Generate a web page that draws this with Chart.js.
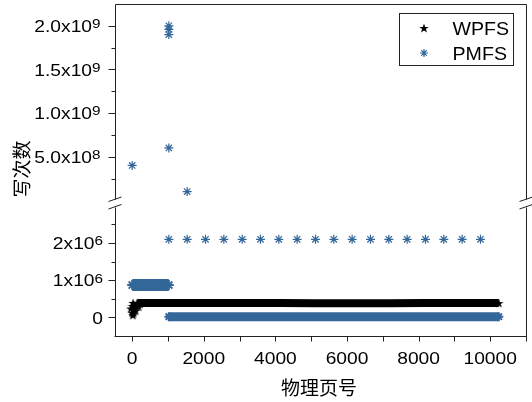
<!DOCTYPE html>
<html>
<head>
<meta charset="utf-8">
<script src="https://cdn.jsdelivr.net/npm/chart.js@4"></script>
<style>
  html, body { margin: 0; padding: 0; background: #fff; }
  #wrap { width: 532px; height: 402px; }
</style>
</head>
<body>
<div id="wrap"><canvas id="chart" width="532" height="402"></canvas></div>
<script>
// values (x = physical page number, y = write count)

// WPFS: a scattered head near page 0, then a flat dense band to the last page
const wpfsHeadPages  = [-40, 0, 8, 16, 24, 40, 56, 72, 96, 120, 144, 180, 220];
const wpfsHeadWrites = [2.4e5, 1.3e5, 3.1e5, 6e4, 3.9e5, 1.1e5, 2.6e5, 3.4e5, 1.8e5, 3.0e5, 3.8e5, 2.9e5, 3.6e5];
const wpfsBandPages  = [144, 1024, 2048, 3072, 4096, 5120, 6144, 7168, 8192, 9216, 10240];
const wpfsBandWrites = [3.85e5, 3.85e5, 3.85e5, 3.85e5, 3.85e5, 3.8e5, 3.8e5, 3.8e5, 3.85e5, 3.85e5, 3.85e5];

// PMFS: very hot pages (upper segment), a 2.1x10^6 row every 512 pages, two dense bands
const pmfsHotPages   = [0, 1024, 1024, 1024, 1024, 1536];
const pmfsHotWrites  = [4.0e8, 2.0e9, 1.96e9, 1.9e9, 6.0e8, 1.0e8];
const pmfsRowPages   = [1024, 1536, 2048, 2560, 3072, 3584, 4096, 4608, 5120, 5632, 6144, 6656, 7168, 7680, 8192, 8704, 9216, 9728];
const pmfsRowWrites  = [2.1e6, 2.1e6, 2.1e6, 2.1e6, 2.1e6, 2.1e6, 2.1e6, 2.1e6, 2.1e6, 2.1e6, 2.1e6, 2.1e6, 2.1e6, 2.1e6, 2.1e6, 2.1e6, 2.1e6, 2.1e6];
const pmfsHighBandPages  = [0, 256, 512, 768, 1024];
const pmfsHighBandWrites = [8.7e5, 8.7e5, 8.7e5, 8.7e5, 8.7e5];
const pmfsZeroBandPages  = [1024, 2048, 3072, 4096, 5120, 6144, 7168, 8192, 9216, 10240];
const pmfsZeroBandWrites = [2e4, 2e4, 2e4, 2e4, 2e4, 2e4, 2e4, 2e4, 2e4, 2e4];

// axis ticks
const xMajorTicks = [0, 2000, 4000, 6000, 8000, 10000];
const xMinorTicks = [1000, 3000, 5000, 7000, 9000, 11000];
const yTopTicks = [5e8, 1e9, 1.5e9, 2e9];
const yTopTickLabels = [['5.0x10', '8'], ['1.0x10', '9'], ['1.5x10', '9'], ['2.0x10', '9']];
const yTopMinor = [2.5e8, 7.5e8, 1.25e9, 1.75e9];
const yLowTicks = [0, 1e6, 2e6];
const yLowTickLabels = [['0', ''], ['1x10', '6'], ['2x10', '6']];
const yLowMinor = [5e5, 1.5e6, 2.5e6];

const blue = '#336699';
const FONT = "'Liberation Sans', Arial, sans-serif";
const CJK = "'Noto Sans CJK SC', sans-serif";

// filled five-point star for WPFS
const starImg = (() => {
  const c = document.createElement('canvas');
  c.width = 10; c.height = 10;
  const g = c.getContext('2d');
  g.fillStyle = '#000';
  g.beginPath();
  for (let i = 0; i < 10; i++) {
    const r = i % 2 ? 2.0 : 5;
    const a = -Math.PI / 2 + i * Math.PI / 5;
    g.lineTo(5 + r * Math.cos(a), 5.5 + r * Math.sin(a));
  }
  g.closePath();
  g.fill();
  return c;
})();

const toPts = (xs, ys) => xs.map((x, i) => ({ x: x, y: ys[i] }));
const endsOnly = r => ctx => (ctx.dataIndex === 0 || ctx.dataIndex === ctx.dataset.data.length - 1) ? r : 0;

function txt(ctx, s, x, y, font, align, sx) {
  ctx.save();
  ctx.font = font;
  ctx.translate(x, y);
  ctx.scale(sx, 1);
  ctx.textAlign = align;
  ctx.textBaseline = 'alphabetic';
  ctx.fillText(s, 0, 0);
  ctx.restore();
  ctx.font = font;
  return ctx.measureText(s).width * sx;
}

function asterisk(ctx, x, y, r) {
  ctx.save();
  ctx.strokeStyle = blue;
  ctx.lineWidth = 1.2;
  ctx.beginPath();
  for (let i = 0; i < 4; i++) {
    const a = i * Math.PI / 4;
    ctx.moveTo(x - r * Math.cos(a), y - r * Math.sin(a));
    ctx.lineTo(x + r * Math.cos(a), y + r * Math.sin(a));
  }
  ctx.stroke();
  ctx.restore();
}

// axes with the break, ticks, labels, titles and legend
const decor = {
  id: 'decor',
  afterDraw(chart) {
    const { ctx, chartArea: a } = chart;
    const x = chart.scales.x, yTop = chart.scales.yTop, yLow = chart.scales.yLow;
    const L = Math.round(a.left) + 0.5, R = Math.round(a.right) + 0.5;
    const T = Math.round(a.top) + 0.5, B = Math.round(a.bottom) + 0.5;
    const mid = yTop.bottom;
    ctx.save();
    ctx.strokeStyle = '#222';
    ctx.lineWidth = 1;
    ctx.beginPath();
    // top and bottom frame lines
    ctx.moveTo(L, T); ctx.lineTo(R, T);
    ctx.moveTo(L - 1, B); ctx.lineTo(R + 0.5, B);
    // left and right lines, broken around the segment boundary
    [L, R].forEach(X => {
      ctx.moveTo(X, T); ctx.lineTo(X, mid - 3);
      ctx.moveTo(X, mid + 5); ctx.lineTo(X, B);
      ctx.moveTo(X - 7, mid - 1); ctx.lineTo(X + 6, mid - 5.5);
      ctx.moveTo(X - 7, mid + 6.5); ctx.lineTo(X + 6, mid + 2);
    });
    // x ticks
    xMajorTicks.concat(xMinorTicks).forEach(v => {
      const px = Math.round(x.getPixelForValue(v)) + 0.5;
      ctx.moveTo(px, B); ctx.lineTo(px, B + 5);
    });
    // y ticks
    const yt = (scale, vals, len) => vals.forEach(v => {
      const py = Math.round(scale.getPixelForValue(v)) + 0.5;
      ctx.moveTo(L, py); ctx.lineTo(L - len, py);
    });
    yt(yTop, yTopTicks, 7); yt(yTop, yTopMinor, 4);
    yt(yLow, yLowTicks, 7); yt(yLow, yLowMinor, 4);
    ctx.stroke();

    ctx.fillStyle = '#000';
    const sx = 1.13;
    xMajorTicks.forEach(v => {
      txt(ctx, String(v), x.getPixelForValue(v), 363.5, '17px ' + FONT, 'center', sx);
    });
    const ylab = (scale, vals, labels, right) => vals.forEach((v, i) => {
      const py = scale.getPixelForValue(v);
      const [m, e] = labels[i];
      let w = 0;
      if (e) w = txt(ctx, e, right, py + 2.3, '13.5px ' + FONT, 'right', sx);
      txt(ctx, m, right - w, py + 6.1, '17px ' + FONT, 'right', sx);
    });
    ylab(yTop, yTopTicks, yTopTickLabels, 100.5);
    ylab(yLow, yLowTicks, yLowTickLabels, 103);

    // axis titles
    ctx.font = '19px ' + CJK;
    ctx.textAlign = 'center';
    ctx.textBaseline = 'middle';
    ctx.fillText('物理页号', 319, 388);
    ctx.save();
    ctx.translate(22, 169);
    ctx.rotate(-Math.PI / 2);
    ctx.fillText('写次数', 0, 0);
    ctx.restore();

    // legend
    ctx.fillStyle = '#fff';
    ctx.fillRect(399.5, 13.5, 114, 52);
    ctx.strokeStyle = '#222';
    ctx.strokeRect(399.5, 13.5, 114, 52);
    ctx.drawImage(starImg, 419, 23);
    asterisk(ctx, 424, 53, 4);
    ctx.fillStyle = '#000';
    txt(ctx, 'WPFS', 452.5, 35, '18.5px ' + FONT, 'left', 1.06);
    txt(ctx, 'PMFS', 452.5, 59.5, '18.5px ' + FONT, 'left', 1.06);
    ctx.restore();
  }
};

const hidden = { display: false };
const yAxis = (weight, min, max) => ({
  type: 'linear', position: 'left', stack: 'writes', stackWeight: weight,
  min: min, max: max,
  grid: hidden, ticks: hidden, border: hidden,
  afterFit: s => { s.width = 115; }
});

new Chart(document.getElementById('chart').getContext('2d'), {
  type: 'scatter',
  data: {
    datasets: [
      { label: 'WPFS band', data: toPts(wpfsBandPages, wpfsBandWrites), yAxisID: 'yLow',
        showLine: true, borderColor: '#000', borderWidth: 8, pointStyle: starImg,
        pointRadius: endsOnly(4), backgroundColor: '#000' },
      { label: 'PMFS high band', data: toPts(pmfsHighBandPages, pmfsHighBandWrites), yAxisID: 'yLow',
        showLine: true, borderColor: blue, borderWidth: 12, pointStyle: 'star',
        pointRadius: endsOnly(5), pointBorderColor: blue, pointBorderWidth: 2 },
      { label: 'PMFS zero band', data: toPts(pmfsZeroBandPages, pmfsZeroBandWrites), yAxisID: 'yLow',
        showLine: true, borderColor: blue, borderWidth: 9, pointStyle: 'star',
        pointRadius: endsOnly(4.5), pointBorderColor: blue, pointBorderWidth: 2 },
      { label: 'WPFS', data: toPts(wpfsHeadPages, wpfsHeadWrites), yAxisID: 'yLow',
        pointStyle: starImg, pointRadius: 4, backgroundColor: '#000' },
      { label: 'PMFS', data: toPts(pmfsHotPages, pmfsHotWrites), yAxisID: 'yTop',
        pointStyle: 'star', pointRadius: 4.5, borderColor: blue, borderWidth: 1.2 },
      { label: 'PMFS row', data: toPts(pmfsRowPages, pmfsRowWrites), yAxisID: 'yLow',
        pointStyle: 'star', pointRadius: 4.5, borderColor: blue, borderWidth: 1.2 }
    ]
  },
  options: {
    responsive: false,
    animation: false,
    layout: { autoPadding: false, padding: { top: 4, right: 6, left: 0, bottom: 0 } },
    plugins: { legend: hidden, tooltip: { enabled: false } },
    scales: {
      x: { type: 'linear', min: -480, max: 11000, grid: hidden, ticks: hidden, border: hidden,
           afterFit: s => { s.height = 66; } },
      yLow: yAxis(133.5, -5e5, 3.09e6),
      yTop: yAxis(198.5, -2.5e7, 2.25e9)
    }
  },
  plugins: [decor]
});
</script>
</body>
</html>
